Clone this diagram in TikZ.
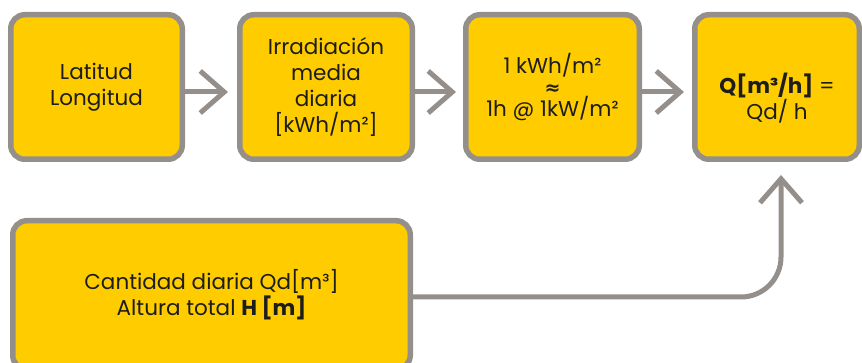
\documentclass[tikz,border=0pt]{standalone}
\usepackage{fontspec}
\setmainfont{Poppins}
\newfontfamily\symfont{DejaVu Sans}
\usetikzlibrary{arrows.meta}
\definecolor{boxfill}{HTML}{FFCC00}
\definecolor{boxline}{HTML}{958F8C}
\definecolor{txt}{HTML}{1D1D1B}
\begin{document}
\begin{tikzpicture}[x=1pt,y=-1pt,
  box/.style={draw=boxline,fill=boxfill,line width=5.5pt,rounded corners=14pt,
    align=center,text=txt,font=\fontsize{21.5}{26}\selectfont,inner sep=0pt},
  flow/.style={draw=boxline,line width=5pt,
    -{Straight Barb[length=24pt,width=42pt,line join=miter]}},
]
\useasboundingbox (0,0) rectangle (862,363);
\node[box,minimum width=171.5pt,minimum height=144.5pt] (b1) at (96.5,87) {Latitud\\Longitud};
\node[box,minimum width=172.5pt,minimum height=144.5pt] (b2) at (326,87) {Irradiación\\media\\diaria\\{[}kWh/m²{]}};
\node[box,minimum width=173.5pt,minimum height=144.5pt,font=\fontsize{21.5}{21.5}\selectfont] (b3) at (552.5,87) {1 kWh/m²\\{\symfont\bfseries\fontsize{19}{19}\selectfont ≈}\\1h @ 1kW/m²};
\node[box,minimum width=164.5pt,minimum height=144.5pt] (b4) at (777,87) {\rule{0pt}{42pt}\textbf{Q[m³/h]} =\\Qd/ h};
\node[box,minimum width=397.5pt,minimum height=148.5pt] (b5) at (211.5,295) {Cantidad diaria Qd[m³]\\Altura total \textbf{H [m]}};
\coordinate (t1) at (228,92);
\coordinate (t2) at (456,92);
\coordinate (t3) at (684,92);
\coordinate (t4) at (781,175);
\draw[flow] (b1.east |- t1) -- (t1);
\draw[flow] (b2.east |- t2) -- (t2);
\draw[flow] (b3.east |- t3) -- (t3);
\draw[flow,rounded corners=40pt] ([yshift=-2pt]b5.east) -| (t4);
\end{tikzpicture}
\end{document}
